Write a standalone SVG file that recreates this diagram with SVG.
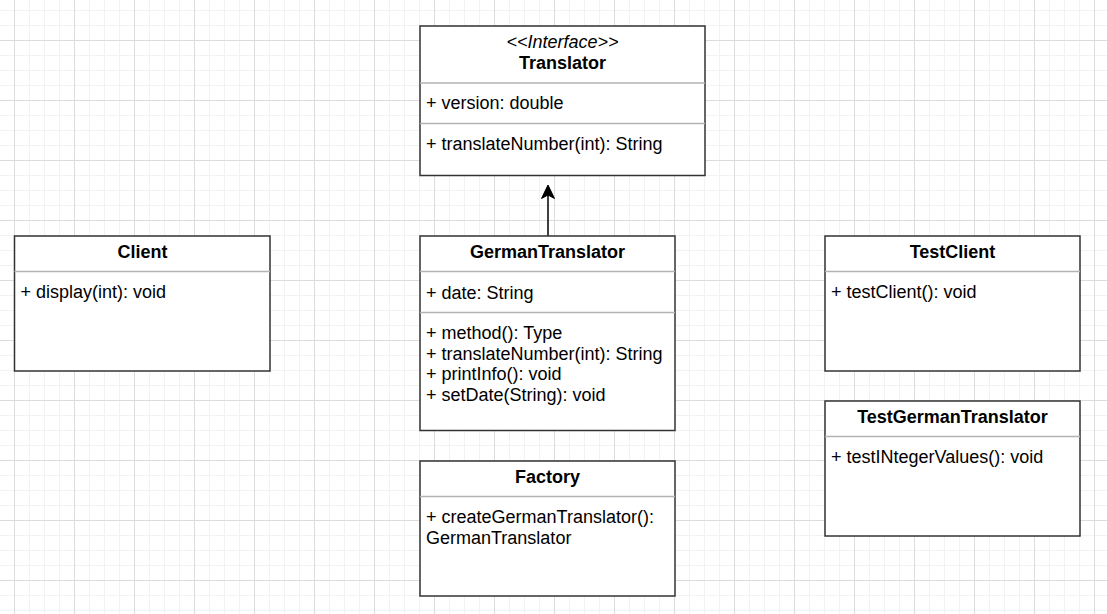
<svg xmlns="http://www.w3.org/2000/svg" width="1107" height="614" viewBox="0 0 1107 614">
  <defs>
    <pattern id="minor" width="15" height="15" patternUnits="userSpaceOnUse" x="14" y="10">
      <path d="M0.5 0 V15 M0 0.5 H15" fill="none" stroke="#f2f2f2" stroke-width="1"/>
    </pattern>
    <pattern id="major" width="60" height="60" patternUnits="userSpaceOnUse" x="14" y="40">
      <path d="M0.5 0 V60 M0 0.5 H60" fill="none" stroke="#dcdcdc" stroke-width="1"/>
    </pattern>
    <marker id="classic" viewBox="0 0 14 14" refX="3.5" refY="7" markerWidth="14" markerHeight="14" markerUnits="userSpaceOnUse" orient="auto">
      <path d="M0 0.5 L13.5 7 L0 13.5 L3.5 7 Z" fill="#000" stroke="#000" stroke-width="1"/>
    </marker>
    <style>
      .box { fill: #ffffff; stroke: #333333; stroke-width: 1.5; }
      .div { stroke: #b3b3b3; stroke-width: 1.5; fill: none; }
      text { font-family: "Liberation Sans", Arial, sans-serif; font-size: 18px; fill: #000; }
      .title { font-weight: bold; text-anchor: middle; }
      .stereo { font-style: italic; text-anchor: middle; }
      .edge { stroke: #000; stroke-width: 1.5; fill: none; }
    </style>
  </defs>
  <rect width="1107" height="614" fill="#ffffff"/>
  <rect width="1107" height="614" fill="url(#minor)"/>
  <rect width="1107" height="614" fill="url(#major)"/>

  <g id="connectors">
    <path class="edge" d="M548 236 V195" marker-end="url(#classic)"/>
  </g>

  <g id="Translator">
    <rect class="box" x="420" y="26" width="285" height="149.5"/>
    <line class="div" x1="420" y1="83" x2="705" y2="83"/>
    <line class="div" x1="420" y1="123.5" x2="705" y2="123.5"/>
    <text class="stereo" x="562.5" y="48">&lt;&lt;Interface&gt;&gt;</text>
    <text class="title" x="562.5" y="68.5">Translator</text>
    <text x="426" y="108.5">+ version: double</text>
    <text x="426" y="149.5">+ translateNumber(int): String</text>
  </g>

  <g id="Client">
    <rect class="box" x="14.5" y="236" width="255.5" height="135"/>
    <line class="div" x1="14.5" y1="271.5" x2="270" y2="271.5"/>
    <text class="title" x="142.5" y="257.5">Client</text>
    <text x="20.5" y="298">+ display(int): void</text>
  </g>

  <g id="GermanTranslator">
    <rect class="box" x="420" y="236" width="255" height="194.5"/>
    <line class="div" x1="420" y1="271.5" x2="675" y2="271.5"/>
    <line class="div" x1="420" y1="312.5" x2="675" y2="312.5"/>
    <text class="title" x="547.5" y="257.5">GermanTranslator</text>
    <text x="426" y="298.5">+ date: String</text>
    <text x="426" y="339">+ method(): Type</text>
    <text x="426" y="359.5">+ translateNumber(int): String</text>
    <text x="426" y="380">+ printInfo(): void</text>
    <text x="426" y="400.5">+ setDate(String): void</text>
  </g>

  <g id="Factory">
    <rect class="box" x="420" y="461" width="255" height="135"/>
    <line class="div" x1="420" y1="496.5" x2="675" y2="496.5"/>
    <text class="title" x="547.5" y="482.5">Factory</text>
    <text x="426" y="523">+ createGermanTranslator():</text>
    <text x="426" y="543.5">GermanTranslator</text>
  </g>

  <g id="TestClient">
    <rect class="box" x="825" y="236" width="255" height="135"/>
    <line class="div" x1="825" y1="271.5" x2="1080" y2="271.5"/>
    <text class="title" x="952.5" y="257.5">TestClient</text>
    <text x="831" y="298">+ testClient(): void</text>
  </g>

  <g id="TestGermanTranslator">
    <rect class="box" x="825" y="401" width="255" height="135"/>
    <line class="div" x1="825" y1="436.5" x2="1080" y2="436.5"/>
    <text class="title" x="952.5" y="422.5">TestGermanTranslator</text>
    <text x="831" y="463">+ testINtegerValues(): void</text>
  </g>
</svg>
